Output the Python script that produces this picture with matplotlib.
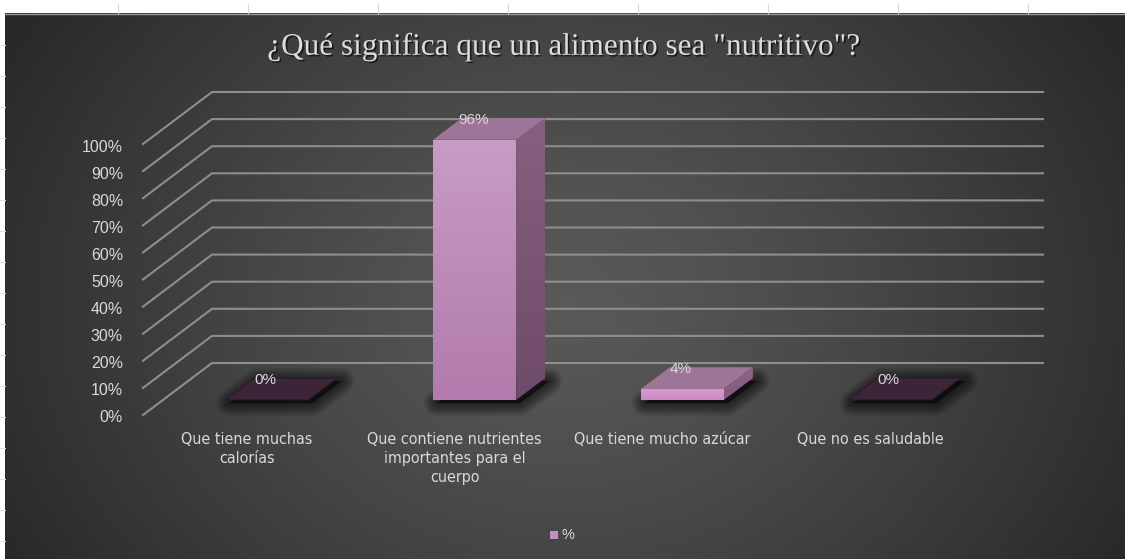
import numpy as np
import matplotlib
matplotlib.use("Agg")
import matplotlib.pyplot as plt
from matplotlib.patches import Polygon, Rectangle
import matplotlib.patheffects as pe

# ---- data -------------------------------------------------------------
title = '¿Qué significa que un alimento sea "nutritivo"?'
categories = [
    "Que tiene muchas\ncalorías",
    "Que contiene nutrientes\nimportantes para el\ncuerpo",
    "Que tiene mucho azúcar",
    "Que no es saludable",
]
values = [0, 96, 4, 0]
y_ticks = [0, 10, 20, 30, 40, 50, 60, 70, 80, 90, 100]
series_name = "%"

# ---- canvas (pixel coordinates) ----------------------------------------
W, H = 1125, 559
fig = plt.figure(figsize=(W / 100, H / 100), dpi=100, facecolor="white")
ax = fig.add_axes([0, 0, 1, 1])
ax.axis("off")

# chart area with a soft radial gradient
L, T = 5, 13
yy, xx = np.mgrid[T:H, L:W].astype(float)
r = np.sqrt(((xx - 565) / 640) ** 2 + ((yy - 300) / 520) ** 2)
r = np.clip(r, 0, 1)
g = 0.350 - (0.350 - 0.160) * r ** 1.25
ax.imshow(np.dstack([g, g, g]), extent=(L, W, H, T), origin="upper",
          aspect="auto", zorder=0, interpolation="bilinear")
ax.plot([L, W], [T + 0.5, T + 0.5], color="#9a9a9a", lw=1.0, zorder=1)

# faint sheet gridline marks on the margin
for x in np.arange(118, W, 130):
    ax.plot([x, x], [4, T], color="#d8d8d8", lw=0.8, zorder=1)
for y in np.arange(45, H, 31):
    ax.plot([0, L], [y, y], color="#e2e2e2", lw=0.8, zorder=1)

ax.set_xlim(0, W)
ax.set_ylim(H, 0)

# ---- oblique 3-D projection --------------------------------------------
X0, Y0 = 143.0, 415.0          # front-left corner of the floor
SLOT = 207.75                  # width of one category slot
DX, DY = 69.0, -52.0           # full depth offset
VS = 2.71                      # pixels per percentage point
n = len(categories)


def proj(c, v, d):
    return (X0 + c * SLOT + d * DX, Y0 - v * VS + d * DY)


grid_col = "#8e8e8e"
for t in y_ticks:
    xa, ya = proj(0, t, 0)
    xb, yb = proj(0, t, 1)
    xc, yc = proj(n, t, 1)
    ax.plot([xa, xb, xc], [ya, yb, yc], color=grid_col, lw=1.5,
            solid_joinstyle="miter", zorder=2)
    ax.text(xa - 20, ya + 3, f"{t}%", ha="right", va="center",
            fontsize=11.5, color="#d9d9d9", family="Liberation Sans", zorder=5)


def gradient_fill(pts, top_col, bot_col, z):
    pts = np.asarray(pts)
    poly = Polygon(pts, closed=True, facecolor="none", edgecolor="none", zorder=z)
    ax.add_patch(poly)
    top = np.array(matplotlib.colors.to_rgb(top_col))
    bot = np.array(matplotlib.colors.to_rgb(bot_col))
    f = np.linspace(0, 1, 64)[:, None]
    img = (top * (1 - f) + bot * f)[:, None, :]
    im = ax.imshow(img, extent=(pts[:, 0].min(), pts[:, 0].max(),
                                pts[:, 1].max(), pts[:, 1].min()),
                   origin="upper", aspect="auto", zorder=z,
                   interpolation="bilinear")
    im.set_clip_path(poly)


BW = 0.40      # bar width as share of slot
D0, D1 = 0.29, 0.71

for i, v in enumerate(values):
    c0, c1 = i + 0.5 - BW / 2, i + 0.5 + BW / 2
    foot = [proj(c0, 0, D0), proj(c1, 0, D0), proj(c1, 0, D1), proj(c0, 0, D1)]
    # soft drop shadow under the bar
    sh = np.asarray(foot) + np.array([4, 3])
    for k in range(9):
        ax.add_patch(Polygon(sh, closed=True, facecolor="none", edgecolor="black",
                             lw=1 + k * 2.2, alpha=0.08, joinstyle="round", zorder=3))
    ax.add_patch(Polygon(sh, closed=True, facecolor="black", alpha=0.6,
                         edgecolor="none", zorder=3))
    if v == 0:
        ax.add_patch(Polygon(foot, closed=True, facecolor="#3d2539",
                             edgecolor="#2a1a27", lw=0.8, zorder=4))
    else:
        front = [proj(c0, 0, D0), proj(c1, 0, D0), proj(c1, v, D0), proj(c0, v, D0)]
        side = [proj(c1, 0, D0), proj(c1, 0, D1), proj(c1, v, D1), proj(c1, v, D0)]
        topf = [proj(c0, v, D0), proj(c1, v, D0), proj(c1, v, D1), proj(c0, v, D1)]
        if v > 20:
            gradient_fill(front, "#c99bc5", "#b27bad", 4)
            gradient_fill(side, "#86607f", "#6f4a69", 4)
        else:
            gradient_fill(front, "#d79ad2", "#c98cc4", 4)
            gradient_fill(side, "#8e6589", "#84597e", 4)
        ax.add_patch(Polygon(topf, closed=True, facecolor="#9d7597",
                             edgecolor="none", zorder=4))
    lx, ly = proj(i + 0.5, v, 0.5)
    ax.text(lx - 16, ly - 9, f"{v}%", ha="center", va="center",
            fontsize=11, color="#d9d9d9", family="Liberation Sans", zorder=6)

# category labels along the front edge of the floor
for i, name in enumerate(categories):
    x, _ = proj(i + 0.5, 0, 0)
    ax.text(x, 432, name, ha="center", va="top", fontsize=11.5,
            color="#d9d9d9", linespacing=1.35,
            family="DejaVu Sans", fontstretch="condensed", zorder=5)

# legend
ax.add_patch(Rectangle((550, 531), 8, 8, facecolor="#c48fbf", edgecolor="none", zorder=5))
ax.text(562, 535, series_name, ha="left", va="center", fontsize=10.5,
        color="#d9d9d9", family="Liberation Sans", zorder=5)

# title
ax.text(564, 47, title, ha="center", va="center", fontsize=22.5,
        color="#dcdcdc", family="Liberation Serif", zorder=6,
        path_effects=[pe.withSimplePatchShadow(offset=(1.2, -1.2),
                                               shadow_rgbFace="black", alpha=0.6)])

fig.savefig("out.png", dpi=100, facecolor="white")
